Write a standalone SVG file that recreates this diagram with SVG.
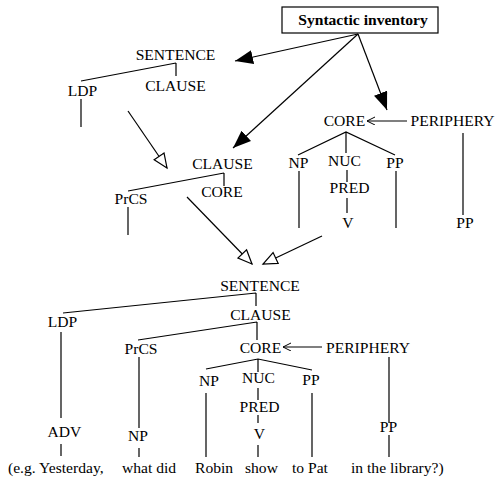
<svg xmlns="http://www.w3.org/2000/svg" width="497" height="479" viewBox="0 0 497 479">
<style>
text{font-size:15.6px;fill:#000;text-anchor:middle}
.l{stroke:#000;stroke-width:1.2;fill:none}
.st{text-anchor:start}
</style>
<defs>
<marker id="fa" markerWidth="20" markerHeight="16" refX="18" refY="7" orient="auto" markerUnits="userSpaceOnUse"><path d="M0,0 L18,7 L0,14 Z" fill="#000"/></marker>
<marker id="ha" markerWidth="18" markerHeight="16" refX="15" refY="7" orient="auto" markerUnits="userSpaceOnUse"><path d="M1,1 L15,7 L1,13 Z" fill="#fff" stroke="#000" stroke-width="1.2"/></marker>
<marker id="ch" markerWidth="10" markerHeight="10" refX="8" refY="4" orient="auto" markerUnits="userSpaceOnUse"><path d="M0,0 L8,4 L0,8" fill="none" stroke="#000" stroke-width="1"/></marker>
</defs>
<rect width="497" height="479" fill="#fff"/>
<g font-family="'Liberation Serif', 'DejaVu Serif', serif">
<g id="inventory">
<rect x="282" y="7" width="156" height="26" fill="#fff" stroke="#000" stroke-width="1.2"/>
<text x="363" y="25" font-weight="bold">Syntactic inventory</text>
</g>
<g id="tree-sentence-top">
<text x="175.5" y="60">SENTENCE</text>
<text x="175.5" y="91">CLAUSE</text>
<text x="82.5" y="96">LDP</text>
<path class="l" d="M81,81 L176,63 M176,63 L176,76 M81,99 L81,127"/>
</g>
<g id="tree-clause-mid">
<text x="222.5" y="169">CLAUSE</text>
<text x="222" y="197">CORE</text>
<text x="131" y="204">PrCS</text>
<path class="l" d="M128,191 L224,173 M224,173 L224,186 M128,207 L128,235"/>
</g>
<g id="tree-core-right">
<text x="344.5" y="126">CORE</text>
<text x="452.5" y="126">PERIPHERY</text>
<text x="298.5" y="168">NP</text>
<text x="344.5" y="166">NUC</text>
<text x="395" y="168">PP</text>
<text x="349.5" y="193">PRED</text>
<text x="348" y="228">V</text>
<text x="465" y="228">PP</text>
<path class="l" d="M298,155 L346,132 L395,155 M346,132 L346,153 M299,171 L299,228 M396,171 L396,228 M347,170 L347,182 M347,198 L347,213 M463,133 L463,215"/>
</g>
<g id="tree-bottom">
<text x="260" y="291">SENTENCE</text>
<text x="260.5" y="320">CLAUSE</text>
<text x="62.5" y="327">LDP</text>
<text x="141" y="354">PrCS</text>
<text x="260.5" y="353">CORE</text>
<text x="368" y="353">PERIPHERY</text>
<text x="209" y="386">NP</text>
<text x="258.5" y="383">NUC</text>
<text x="311" y="385">PP</text>
<text x="259.5" y="412">PRED</text>
<text x="259.5" y="439">V</text>
<text x="64.5" y="437">ADV</text>
<text x="138" y="441">NP</text>
<text x="388.5" y="432">PP</text>
<path class="l" d="M63,313 L256,293 M256,293 L256,306 M61,332 L61,418 M61,444 L61,456 M138,340 L257,322 M257,322 L257,340 M139,357 L139,428 M139,448 L139,457 M389,357 L389,423 M389,435 L389,457 M206,369 L258,359 L312,370 M258,359 L258,372 M206,393 L206,457 M312,393 L312,457 M258,388 L258,400 M258,415 L258,423 M258,445 L258,457"/>
</g>
<g id="sentence-text">
<text class="st" x="8" y="473">(e.g. Yesterday,</text>
<text class="st" x="122" y="473">what did</text>
<text class="st" x="195" y="473">Robin</text>
<text class="st" x="245" y="473">show</text>
<text class="st" x="292" y="473">to Pat</text>
<text class="st" x="351" y="473">in the library?)</text>
</g>
</g>
<g id="connectors">
<line class="l" x1="358" y1="34" x2="235" y2="61" marker-end="url(#fa)"/>
<line class="l" x1="358" y1="34" x2="233" y2="148" marker-end="url(#fa)"/>
<line class="l" x1="358" y1="34" x2="387" y2="110" marker-end="url(#fa)"/>
<line class="l" x1="128" y1="111" x2="167" y2="168" marker-end="url(#ha)"/>
<line class="l" x1="187" y1="197" x2="252" y2="264" marker-end="url(#ha)"/>
<line class="l" x1="322" y1="236" x2="263" y2="264" marker-end="url(#ha)"/>
<line class="l" x1="407" y1="121" x2="367" y2="121" marker-end="url(#ch)"/>
<line class="l" x1="322" y1="347" x2="283" y2="347" marker-end="url(#ch)"/>
</g>
</svg>
